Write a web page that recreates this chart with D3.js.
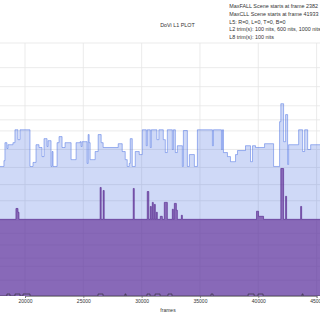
<!DOCTYPE html>
<html>
<head>
<meta charset="utf-8">
<script src="https://cdn.jsdelivr.net/npm/d3@7"></script>
<style>
  body { margin: 0; background: #fff; }
  svg { display: block; font-family: 'Liberation Sans', Arial, sans-serif; }
</style>
</head>
<body>
<svg width="320" height="320"></svg>
<script>
// L1 metadata, values in PQ (0..1), change points per frame
const maxFrames = [17700, 18194, 18280, 18452, 18538, 18967, 19139, 19397, 19569, 20428, 20686, 20944, 21202, 21459, 21631, 21889, 21975, 22233, 22319, 22405, 22749, 22920, 23178, 23436, 23952, 24381, 24725, 24811, 24897, 25327, 25413, 25500, 25585, 26014, 26272, 26530, 26700, 27991, 28335, 28593, 28764, 28936, 29022, 29194, 29452, 29796, 30053, 30397, 30483, 30741, 30827, 31310, 31480, 31858, 32030, 32200, 32630, 32720, 32890, 33061, 33491, 33577, 33921, 34093, 34522, 34780, 36069, 36155, 36843, 36929, 37015, 37358, 37616, 38050, 38218, 38905, 39335, 39507, 39765, 40538, 41312, 41827, 41933, 42171, 42343, 42515, 42601, 43460, 43804, 43976, 44234, 44491, 45400]
const maxPq = [0.512, 0.535, 0.606, 0.583, 0.598, 0.606, 0.657, 0.618, 0.657, 0.512, 0.528, 0.598, 0.587, 0.551, 0.622, 0.591, 0.614, 0.512, 0.571, 0.512, 0.606, 0.630, 0.587, 0.606, 0.539, 0.606, 0.610, 0.591, 0.610, 0.524, 0.638, 0.606, 0.539, 0.571, 0.638, 0.606, 0.587, 0.602, 0.571, 0.539, 0.512, 0.524, 0.622, 0.512, 0.571, 0.559, 0.657, 0.594, 0.657, 0.587, 0.657, 0.618, 0.657, 0.618, 0.567, 0.657, 0.579, 0.657, 0.567, 0.594, 0.512, 0.654, 0.512, 0.559, 0.512, 0.657, 0.594, 0.657, 0.579, 0.657, 0.567, 0.551, 0.531, 0.559, 0.575, 0.594, 0.531, 0.594, 0.587, 0.602, 0.512, 0.689, 0.760, 0.610, 0.717, 0.520, 0.598, 0.657, 0.571, 0.657, 0.579, 0.598, 0.598]

const avgFrames = [17700, 19225, 19397, 19483, 26444, 26530, 26702, 26788, 29280, 29366, 30483, 30612, 30741, 30827, 30913, 30999, 31085, 31171, 31258, 31343, 31600, 31772, 31944, 32202, 32632, 32718, 32804, 32975, 33061, 33405, 33491, 39851, 40023, 40452, 41933, 42171, 42343, 42428, 43632, 43718, 45400]
const avgPq = [0.303, 0.346, 0.331, 0.303, 0.429, 0.303, 0.417, 0.303, 0.425, 0.303, 0.413, 0.303, 0.354, 0.303, 0.370, 0.303, 0.362, 0.303, 0.331, 0.303, 0.315, 0.303, 0.370, 0.303, 0.343, 0.303, 0.366, 0.339, 0.303, 0.319, 0.303, 0.335, 0.315, 0.303, 0.504, 0.303, 0.394, 0.303, 0.354, 0.303, 0.303]

const minFrames = [17700, 18450, 18710, 19140, 19570, 19830, 20430, 26260, 26690, 28570, 28660, 30460, 30720, 31150, 31580, 32260, 32600, 35950, 36120, 39130, 39640, 39980, 40410, 43750, 43840, 45400]
const minPq = [0, 0.008, 0, 0.008, 0, 0.008, 0, 0.008, 0, 0.008, 0, 0.008, 0, 0.008, 0, 0.008, 0, 0.008, 0, 0.008, 0, 0.008, 0, 0.008, 0, 0]

const xTicks = [20000, 25000, 30000, 35000, 40000, 45000]
const gridNits = [0.1, 0.5, 1, 2.5, 5, 10, 25, 50, 100, 200, 400, 600, 1000, 2000, 4000, 10000]

const title = 'DoVi L1 PLOT'
const infoLines = [
  'MaxFALL Scene starts at frame 2382',
  'MaxCLL Scene starts at frame 41933',
  'L5: R=0, L=0, T=0, B=0',
  'L2 trim(s): 100 nits, 600 nits, 1000 nits',
  'L8 trim(s): 100 nits'
]

// ST 2084 inverse EOTF
function pq (nits) {
  const m1 = 0.1593017578125, m2 = 78.84375
  const c1 = 0.8359375, c2 = 18.8515625, c3 = 18.6875
  const y = Math.pow(nits / 10000, m1)
  return Math.pow((c1 + c2 * y) / (1 + c3 * y), m2)
}

let svg = d3.select('svg')
let plotTop = 43
let plotBottom = 296

let x = d3.scaleLinear().domain([20000, 45000]).range([25, 316.6])
let y = d3.scaleLinear().domain([0, 1]).range([plotBottom, plotTop])

svg.append('defs').append('clipPath').attr('id', 'plot')
  .append('rect').attr('x', 0).attr('y', plotTop).attr('width', 320).attr('height', plotBottom - plotTop)

// grid
let grid = svg.append('g')
grid.selectAll('.hg')
  .data(gridNits)
  .enter()
  .append('line')
  .attr('x1', 0).attr('x2', 320)
  .attr('y1', d => y(pq(d))).attr('y2', d => y(pq(d)))
  .attr('stroke', '#e6e6e6').attr('stroke-width', 0.8)
grid.selectAll('.vg')
  .data(xTicks)
  .enter()
  .append('line')
  .attr('x1', d => x(d)).attr('x2', d => x(d))
  .attr('y1', plotTop).attr('y2', plotBottom)
  .attr('stroke', '#e6e6e6').attr('stroke-width', 0.8)

let zip = (f, v) => f.map((d, i) => [d, v[i]])
let maxData = zip(maxFrames, maxPq)
let avgData = zip(avgFrames, avgPq)
let minData = zip(minFrames, minPq)

let area = d3.area()
  .curve(d3.curveStepAfter)
  .x(d => x(d[0]))
  .y0(y(0))
  .y1(d => y(d[1]))
let line = d3.line()
  .curve(d3.curveStepAfter)
  .x(d => x(d[0]))
  .y(d => y(d[1]))

let plot = svg.append('g').attr('clip-path', 'url(#plot)')

plot.append('path').datum(maxData)
  .attr('d', area)
  .attr('fill', 'royalblue').attr('fill-opacity', 0.25)
plot.append('path').datum(maxData)
  .attr('d', line)
  .attr('fill', 'none').attr('stroke', 'royalblue')
  .attr('stroke-opacity', 0.6).attr('stroke-width', 0.8)

plot.append('path').datum(avgData)
  .attr('d', area)
  .attr('fill', 'rebeccapurple').attr('fill-opacity', 0.68)
plot.append('path').datum(avgData)
  .attr('d', line)
  .attr('fill', 'none').attr('stroke', '#5a2d91')
  .attr('stroke-opacity', 0.85).attr('stroke-width', 0.8)

plot.append('path').datum(minData)
  .attr('d', line)
  .attr('fill', 'none').attr('stroke', '#2a2a2a')
  .attr('stroke-opacity', 0.7).attr('stroke-width', 0.8)

// x axis
let axis = svg.append('g')
  .attr('transform', 'translate(0,' + plotBottom + ')')
  .call(d3.axisBottom(x).tickValues(xTicks).tickFormat(d3.format('d')).tickSize(2).tickPadding(1.5))
axis.select('.domain').attr('stroke', '#555').attr('stroke-width', 0.6)
axis.selectAll('.tick line').attr('stroke', '#555').attr('stroke-width', 0.6)
axis.selectAll('.tick text')
  .attr('fill', '#333')
  .style('font-size', '5px')
  .style('font-family', "'Liberation Sans', Arial, sans-serif")

svg.append('text')
  .attr('x', 168).attr('y', 311.5)
  .attr('text-anchor', 'middle')
  .attr('fill', '#333')
  .style('font-size', '5px')
  .text('frames')

svg.append('text')
  .attr('x', 177.5).attr('y', 26.5)
  .attr('text-anchor', 'middle')
  .attr('fill', '#333')
  .style('font-size', '5.4px')
  .text(title)

svg.append('g')
  .selectAll('text')
  .data(infoLines)
  .enter()
  .append('text')
  .attr('x', 229.3)
  .attr('y', (d, i) => 7.9 + i * 7.8)
  .attr('fill', '#333')
  .style('font-size', '5.4px')
  .text(d => d)
</script>
</body>
</html>
